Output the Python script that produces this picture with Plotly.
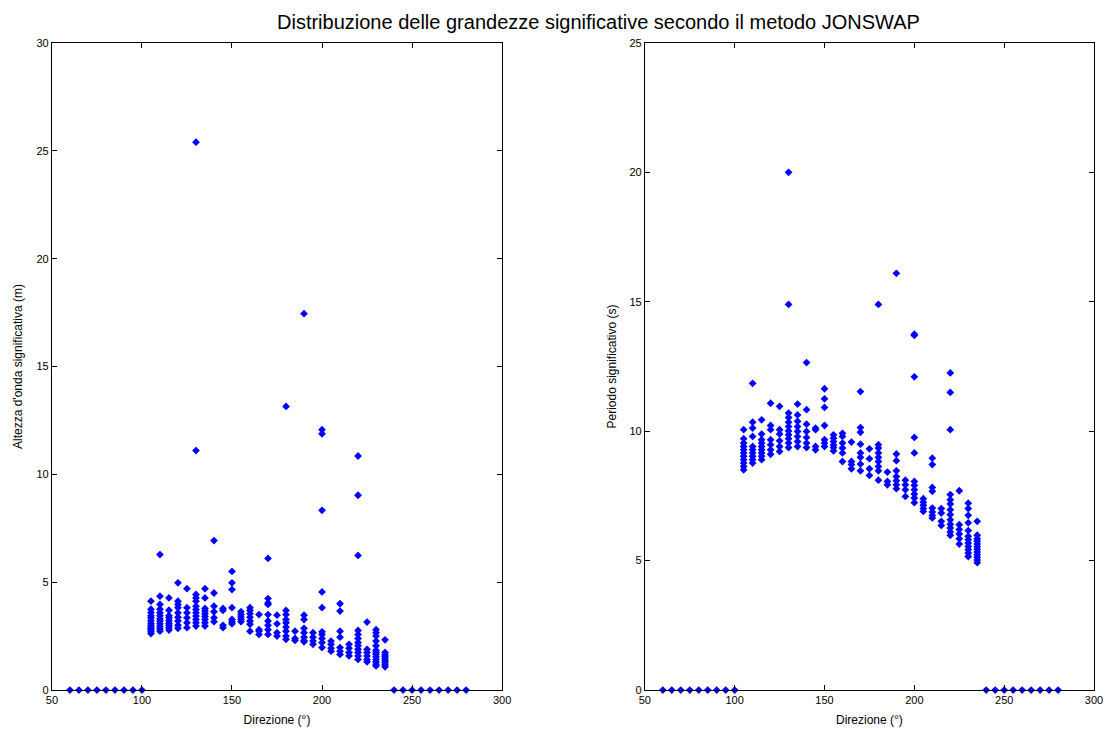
import plotly.graph_objects as go

# Wave direction sectors (degrees) and the significant values observed in each
directions = [105, 110, 115, 120, 125, 130, 135, 140, 145, 150, 155, 160, 165, 170,
              175, 180, 185, 190, 195, 200, 205, 210, 215, 220, 225, 230, 235]

# Significant wave height Hs (m) per direction sector
hs_by_dir = [
    [4.12, 3.75, 3.6, 3.45, 3.35, 3.22, 3.1, 3.0, 2.92, 2.85, 2.78, 2.7, 2.62],
    [6.28, 4.35, 3.97, 3.75, 3.58, 3.45, 3.3, 3.2, 3.07, 2.95, 2.83, 2.73],
    [4.27, 3.7, 3.45, 3.35, 3.22, 3.1, 3.0, 2.9, 2.78],
    [4.97, 4.12, 3.97, 3.82, 3.58, 3.38, 3.2, 3.0, 2.86],
    [4.7, 3.82, 3.58, 3.35, 3.12, 2.89],
    [25.4, 11.1, 4.43, 4.27, 4.12, 3.89, 3.73, 3.58, 3.43, 3.27, 3.12, 2.97],
    [4.7, 4.27, 3.78, 3.66, 3.54, 3.41, 3.27, 3.12, 2.97],
    [6.93, 4.5, 3.89, 3.63, 3.35, 3.17],
    [3.78, 3.69, 3.0, 2.89],
    [5.5, 4.97, 4.66, 3.82, 3.27, 3.17, 3.07],
    [3.63, 3.5, 3.38, 3.27, 3.17],
    [3.82, 3.69, 3.54, 3.38, 3.2, 3.05, 2.73],
    [3.5, 2.8, 2.73, 2.58],
    [6.1, 4.24, 4.04, 3.97, 3.5, 3.2, 3.0, 2.8, 2.58],
    [3.47, 3.07, 2.66, 2.5],
    [13.15, 3.69, 3.5, 3.27, 3.12, 2.92, 2.73, 2.5, 2.35],
    [2.73, 2.39, 2.3],
    [17.45, 3.47, 3.27, 2.86, 2.66, 2.45, 2.3, 2.24],
    [2.66, 2.45, 2.27, 2.12],
    [12.07, 11.88, 8.33, 4.55, 3.82, 2.7, 2.58, 2.39, 2.2, 1.97],
    [2.27, 2.12, 1.94, 1.8],
    [4.0, 3.66, 2.73, 2.45, 1.97, 1.8, 1.65],
    [2.12, 1.94, 1.74, 1.58],
    [10.85, 9.03, 6.24, 2.76, 2.58, 2.39, 2.2, 2.05, 1.89, 1.74, 1.58, 1.42],
    [3.15, 1.89, 1.74, 1.58, 1.42, 1.31],
    [2.8, 2.66, 2.5, 2.27, 2.05, 1.84, 1.74, 1.66, 1.54, 1.42, 1.31, 1.2, 1.12],
    [2.33, 1.74, 1.63, 1.54, 1.45, 1.35, 1.26, 1.17, 1.08],
]

# Significant period Ts (s) per direction sector
ts_by_dir = [
    [10.06, 9.71, 9.54, 9.41, 9.28, 9.16, 9.03, 8.9, 8.77, 8.64, 8.51],
    [11.85, 10.35, 10.12, 9.8, 9.41, 9.28, 9.16, 9.03, 8.9, 8.77],
    [10.44, 9.89, 9.67, 9.54, 9.41, 9.28, 9.16, 9.03, 8.9],
    [11.08, 10.22, 10.06, 9.67, 9.48, 9.28, 9.11],
    [10.96, 10.06, 9.89, 9.63, 9.41, 9.22],
    [20.0, 14.9, 10.7, 10.53, 10.35, 10.18, 10.01, 9.86, 9.71, 9.54, 9.37],
    [11.05, 10.63, 10.38, 10.18, 9.99, 9.8, 9.6, 9.41],
    [12.65, 10.83, 10.27, 9.99, 9.76, 9.54, 9.37],
    [10.12, 10.06, 9.41, 9.28],
    [11.64, 11.25, 10.92, 10.22, 9.67, 9.54, 9.41],
    [9.86, 9.73, 9.6, 9.47, 9.37, 9.24],
    [9.92, 9.8, 9.54, 9.35, 9.16, 8.83],
    [9.58, 8.83, 8.71, 8.55],
    [11.53, 10.14, 9.96, 9.5, 9.16, 8.99, 8.73, 8.47],
    [9.32, 8.94, 8.55, 8.29],
    [14.9, 9.48, 9.35, 9.16, 8.99, 8.83, 8.64, 8.47, 8.11],
    [8.42, 8.06, 7.93],
    [16.1, 9.12, 8.86, 8.47, 8.25, 8.09, 7.93, 7.78],
    [8.11, 7.93, 7.74, 7.48],
    [13.75, 13.7, 12.1, 9.76, 9.16, 8.06, 7.91, 7.74, 7.57, 7.42, 7.24],
    [7.39, 7.26, 7.14, 7.01, 6.9],
    [8.96, 8.71, 7.83, 7.68, 7.03, 6.88, 6.75, 6.65],
    [7.01, 6.84, 6.52, 6.36],
    [12.25, 11.5, 10.06, 7.55, 7.35, 7.19, 6.97, 6.78, 6.58, 6.41, 6.26, 6.11, 5.98],
    [7.7, 6.39, 6.2, 6.03, 5.85, 5.64],
    [7.22, 7.01, 6.75, 6.46, 6.16, 5.94, 5.81, 5.68, 5.55, 5.42, 5.29, 5.16],
    [6.52, 5.98, 5.85, 5.75, 5.64, 5.54, 5.44, 5.33, 5.23, 5.13, 5.02, 4.92],
]

# Sectors with no significant waves (value 0)
zero_dirs = [60, 65, 70, 75, 80, 85, 90, 95, 100,
             240, 245, 250, 255, 260, 265, 270, 275, 280]

x_ticks = [50, 100, 150, 200, 250, 300]
hs_ticks = [0, 5, 10, 15, 20, 25, 30]
ts_ticks = [0, 5, 10, 15, 20, 25]


def expand(values_by_dir):
    xs, ys = [], []
    for d, vals in zip(directions, values_by_dir):
        xs.extend([d] * len(vals))
        ys.extend(vals)
    xs.extend(zero_dirs)
    ys.extend([0] * len(zero_dirs))
    return xs, ys


W, H = 1113, 729
FONT = "Liberation Sans, Arial, sans-serif"
marker = dict(symbol="diamond", size=6, color="#0000ff", line=dict(width=0))

fig = go.Figure()
hx, hy = expand(hs_by_dir)
tx, ty = expand(ts_by_dir)
fig.add_trace(go.Scatter(x=hx, y=hy, mode="markers", marker=marker,
                         xaxis="x", yaxis="y", showlegend=False, cliponaxis=False))
fig.add_trace(go.Scatter(x=tx, y=ty, mode="markers", marker=marker,
                         xaxis="x2", yaxis="y2", showlegend=False, cliponaxis=False))


# Convert on-screen pixel positions of the page to paper fractions
def px_x(p):
    return (p - 5) / 1100


def px_y(p):
    return 1 - (p - 4) / 718


axis_common = dict(showgrid=False, zeroline=False, showline=True, linecolor="#000000",
                   linewidth=1, mirror="ticks", ticks="inside", ticklen=5,
                   tickcolor="#000000", tickfont=dict(family=FONT, size=11, color="#000000"))

fig.update_layout(
    width=W, height=H,
    margin=dict(l=0, r=0, t=0, b=0),
    paper_bgcolor="white", plot_bgcolor="white",
    font=dict(family=FONT, color="#000000"),
    xaxis=dict(domain=[px_x(51), px_x(502)], range=[50, 300], tickvals=x_ticks,
               anchor="y",
               title=dict(text="Direzione (°)", font=dict(size=12), standoff=10),
               **axis_common),
    yaxis=dict(domain=[px_y(689), px_y(41)], range=[0, 30], tickvals=hs_ticks,
               anchor="x",
               title=dict(text="Altezza d'onda significativa (m)", font=dict(size=12), standoff=11),
               **axis_common),
    xaxis2=dict(domain=[px_x(645), px_x(1095)], range=[50, 300], tickvals=x_ticks,
                anchor="y2",
                title=dict(text="Direzione (°)", font=dict(size=12), standoff=10),
                **axis_common),
    yaxis2=dict(domain=[px_y(689), px_y(41)], range=[0, 25], tickvals=ts_ticks,
                anchor="x2",
                title=dict(text="Periodo significativo (s)", font=dict(size=12), standoff=10),
                **axis_common),
    annotations=[dict(text="Distribuzione delle grandezze significative secondo il metodo JONSWAP",
                      x=px_x(599), y=px_y(20), xref="paper", yref="paper",
                      xanchor="center", yanchor="middle", showarrow=False,
                      font=dict(family=FONT, size=20, color="#000000"))],
)

fig.write_html("out.html")
